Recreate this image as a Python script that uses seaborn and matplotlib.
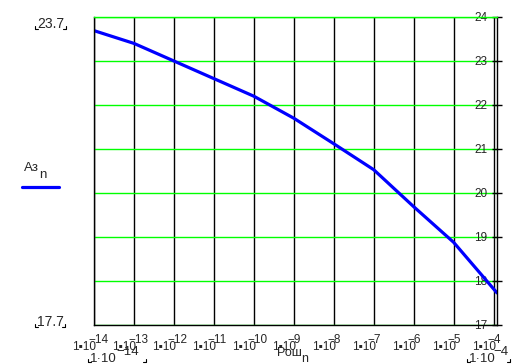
import numpy as np
import pandas as pd
import matplotlib
matplotlib.use("Agg")
import matplotlib.pyplot as plt
import seaborn as sns
from matplotlib.lines import Line2D
from matplotlib.ticker import NullLocator
from matplotlib.transforms import blended_transform_factory

# ---- data ----
pressure = [1e-14, 1e-13, 1e-12, 1e-11, 1e-10, 1e-9, 1e-8, 1e-7, 1e-6, 1e-5, 1.22e-4]
az = [23.69, 23.40, 23.00, 22.60, 22.20, 21.70, 21.12, 20.53, 19.69, 18.88, 17.73]
xtick_exps = [-14, -13, -12, -11, -10, -9, -8, -7, -6, -5, -4]
yticks = [17, 18, 19, 20, 21, 22, 23, 24]
x_limits = (1e-14, 1.22e-4)
y_limits = (17, 24)
y_marker_labels = ["23.7", "17.7"]
series_name = "Аз"
axis_name = "Рош"

sns.set_style("white")
plt.rcParams["font.family"] = ["Liberation Sans", "DejaVu Sans"]

W, H = 529, 364
fig = plt.figure(figsize=(W / 100, H / 100), dpi=100)
ax = fig.add_axes([94 / W, (H - 325) / H, 403 / W, 308 / H])

df = pd.DataFrame({axis_name: pressure, series_name: az})
sns.lineplot(data=df, x=axis_name, y=series_name, ax=ax, color="#0000ff",
             lw=2.3, legend=False)

ax.set_xscale("log")
ax.set_xlim(*x_limits)
ax.set_ylim(*y_limits)
ax.set_xlabel("")
ax.set_ylabel("")
ax.set_xticks([10.0 ** e for e in xtick_exps])
ax.set_xticklabels([])
ax.xaxis.set_minor_locator(NullLocator())
ax.set_yticks(yticks)
ax.yaxis.tick_right()
ax.tick_params(axis="x", direction="out", length=2.5, width=1, color="black")
ax.tick_params(axis="y", direction="inout", length=7.5, width=1, color="black",
               pad=-10.8, labelsize=8.5)
for lab in ax.get_yticklabels():
    lab.set_ha("right")

ax.set_axisbelow(True)
ax.grid(axis="x", which="major", color="black", lw=1.0)
ax.grid(axis="y", which="major", color="#00ff00", lw=1.0)
for side in ["left", "bottom", "right"]:
    ax.spines[side].set_color("black")
    ax.spines[side].set_linewidth(1.0)
ax.spines["top"].set_color("#00ff00")
ax.spines["top"].set_linewidth(1.0)

# x tick labels in Mathcad style: 1▪10 with full-size raised exponent
trans = blended_transform_factory(ax.transData, ax.transAxes)
for e in xtick_exps:
    t = 10.0 ** e
    ax.annotate("1▪10", xy=(t, 0), xycoords=trans, xytext=(2, -25),
                textcoords="offset pixels", ha="right", va="baseline",
                fontsize=8.5, annotation_clip=False)
    ax.annotate(f"\u2212{-e}", xy=(t, 0), xycoords=trans, xytext=(-6, -18),
                textcoords="offset pixels", ha="left", va="baseline",
                fontsize=8.5, annotation_clip=False)


def ftxt(x, y, s, **kw):
    kw.setdefault("fontsize", 9.5)
    kw.setdefault("va", "baseline")
    fig.text(x / W, 1 - y / H, s, **kw)


def corner(x, y, right=False):
    dx = -3 if right else 3
    fig.add_artist(Line2D([x / W, x / W, (x + dx) / W],
                          [1 - (y - 3) / H, 1 - y / H, 1 - y / H],
                          transform=fig.transFigure, color="black", lw=0.8))


# y range markers on the left
ftxt(37, 28.5, y_marker_labels[0], fontsize=10)
corner(35, 29)
corner(66, 29, right=True)
ftxt(37, 326.5, y_marker_labels[1], fontsize=10)
corner(35, 327)
corner(65, 327, right=True)

# series label with line sample
ftxt(24, 171, series_name)
ftxt(39, 178.5, "n")
fig.add_artist(Line2D([22 / W, 59 / W], [1 - 187 / H, 1 - 187 / H],
                      transform=fig.transFigure, color="#0000ff", lw=2.3))

# x axis name
ftxt(277, 356, axis_name, fontsize=9)
ftxt(301, 362, "n", fontsize=9)

# x range markers
ftxt(90, 361.5, "1·10")
ftxt(116, 355, f"\u2212{-xtick_exps[0]}")
corner(88, 362)
corner(146, 362, right=True)
ftxt(469, 361.5, "1·10")
ftxt(493, 355, f"\u2212{-xtick_exps[-1]}")
corner(467, 362)
corner(510, 362, right=True)

fig.savefig("out.png", dpi=100)
